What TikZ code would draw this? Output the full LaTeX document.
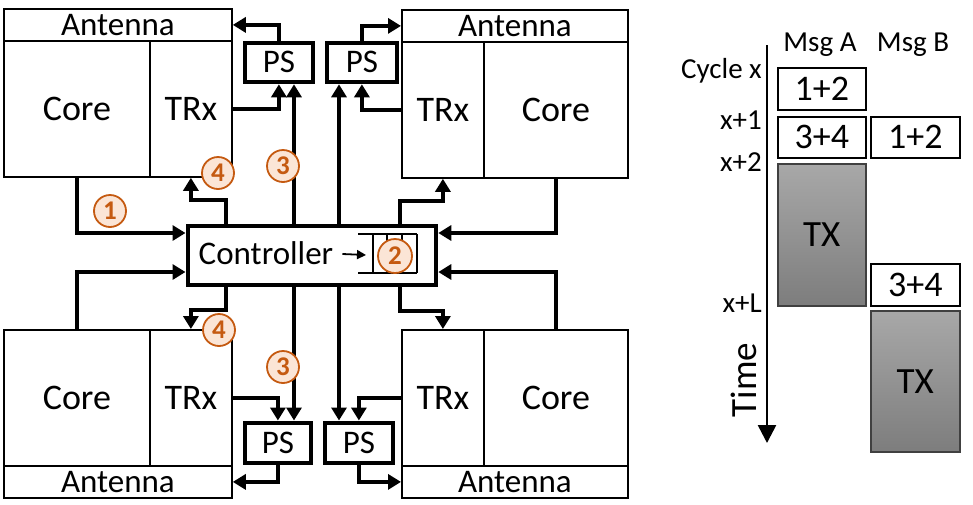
\documentclass[tikz,border=0pt]{standalone}
\usepackage{fontspec}
\setmainfont{Carlito}
\usetikzlibrary{arrows.meta,calc}
\definecolor{numor}{HTML}{C55A11}
\definecolor{numfill}{HTML}{FBE5D6}
\definecolor{txtop}{RGB}{168,168,168}
\definecolor{txbot}{RGB}{125,125,125}
\definecolor{txedge}{RGB}{64,64,64}
\begin{document}
\begin{tikzpicture}[x=1pt,y=-1pt,
  fs/.style={font=\fontsize{#1}{#1}\selectfont,text height=#1*0.85pt,text depth=#1*0.21pt},
  box/.style={draw,line width=1.8pt,inner sep=0pt,anchor=north west},
  thickbox/.style={draw,line width=4.8pt,inner sep=0pt,anchor=north west,fill=white},
  arr/.style={line width=4pt,-{Triangle[length=13pt,width=15pt]}},
  big/.style={fs=36},
  ant/.style={fs=33,text height=25pt,text depth=4pt},
  ps/.style={fs=33},
  num/.style={circle,draw=numor,fill=numfill,line width=1.8pt,minimum size=32pt,
    inner sep=0pt,text=numor,fs=27,font=\fontsize{27}{27}\selectfont\bfseries},
  slot/.style={draw,line width=1.8pt,inner sep=0pt,anchor=north west,fs=36},
  txslot/.style={draw=txedge,line width=1.5pt,inner sep=0pt,anchor=north west,
    top color=txtop,bottom color=txbot,fs=37},
  lab/.style={fs=29}
]
\useasboundingbox[fill=white] (0,0) rectangle (973,504);

% ---- top-left block
\node[box,ant,minimum width=228,minimum height=32] (tlant) at (3,8) {Antenna};
\node[box,big,minimum width=146,minimum height=136] (tlcore) at (3,40) {Core};
\node[box,big,minimum width=82,minimum height=136] (tltrx) at (149,40) {TRx};
% ---- top-right block
\node[box,ant,minimum width=226,minimum height=32] (trant) at (401,9) {Antenna};
\node[box,big,minimum width=82,minimum height=136] (trtrx) at (401,41) {TRx};
\node[box,big,minimum width=144,minimum height=136] (trcore) at (483,41) {Core};
% ---- bottom-left block
\node[box,big,minimum width=146,minimum height=136] (blcore) at (3,329) {Core};
\node[box,big,minimum width=82,minimum height=136] (bltrx) at (149,329) {TRx};
\node[box,ant,minimum width=228,minimum height=32] (blant) at (3,465) {Antenna};
% ---- bottom-right block
\node[box,big,minimum width=82,minimum height=136] (brtrx) at (401,329) {TRx};
\node[box,big,minimum width=144,minimum height=136] (brcore) at (483,329) {Core};
\node[box,ant,minimum width=226,minimum height=32] (brant) at (401,465) {Antenna};

% ---- PS boxes
\node[thickbox,ps,minimum width=68,minimum height=39] (tlps) at (242.5,40.5) {PS};
\node[thickbox,ps,minimum width=70,minimum height=39] (trps) at (324.5,40.5) {PS};
\node[thickbox,ps,minimum width=66,minimum height=40] (blps) at (242.5,420.5) {PS};
\node[thickbox,ps,minimum width=68,minimum height=40] (brps) at (322.5,420.5) {PS};

% ---- controller
\node[thickbox,minimum width=248,minimum height=59] (ctrl) at (185.5,223.5) {};
\node[fs=33,inner xsep=9pt] (ctrltxt) at (266,254) {Controller};
\coordinate (qin) at (366,255);
\draw[line width=1.8pt,-{Triangle[length=9pt,width=9pt]}] (ctrltxt.east) -- (qin);
\draw[line width=1.5pt] (358,234) -- (417,234) (358,273) -- (417,273)
  (373,234) -- (373,273) (387,234) -- (387,273) (402,234) -- (402,273) (417,234) -- (417,273);

% ---- helper columns / rows
\coordinate (c4L) at (226,0);
\coordinate (c3L) at (294,0);
\coordinate (c3R) at (339,0);
\coordinate (c4R) at (400,0);
\coordinate (rT) at (0,233);
\coordinate (rB) at (0,272);

% ---- top-left connectors
\draw[arr] (tlps.north) |- (tlant.east);
\draw[arr] (tltrx.east) -| (tlps.south);
\draw[arr] (c3L |- ctrl.north) -- (c3L |- tlps.south);
\draw[arr] (c4L |- ctrl.north) -- ++(0,-24) -| (tltrx.south);
\draw[arr] (tlcore.south) |- (rT -| ctrl.west);
% ---- top-right connectors
\draw[arr] (trps.north) |- (trant.west);
\draw[arr] (trtrx.west) -| (trps.south);
\draw[arr] (c3R |- ctrl.north) -- (c3R |- trps.south);
\draw[arr] (c4R |- ctrl.north) -- ++(0,-23) -| (trtrx.south);
\draw[arr] (trcore.south) |- (rT -| ctrl.east);
% ---- bottom-left connectors
\draw[arr] (blcore.north) |- (rB -| ctrl.west);
\draw[arr] (c4L |- ctrl.south) -- ++(0,23) -| (bltrx.north);
\draw[arr] (c3L |- ctrl.south) -- (c3L |- blps.north);
\draw[arr] (bltrx.east) -| (blps.north);
\draw[arr] (blps.south) |- (blant.east);
% ---- bottom-right connectors
\draw[arr] (brps.south) |- (brant.west);
\draw[arr] (brtrx.west) -| (brps.north);
\draw[arr] (c3R |- ctrl.south) -- (c3R |- brps.north);
\draw[arr] (c4R |- ctrl.south) -- ++(0,24) -| (brtrx.north);
\draw[arr] (brcore.north) |- (rB -| ctrl.east);

% ---- numbered circles
\node[num] (n1) at (110,211) {1};
\node[num] (n4t) at (218,173) {4};
\node[num] (n3t) at (283,166) {3};
\node[num,minimum size=34pt] (n2) at (395,256) {2};
\node[num] (n4b) at (219,330) {4};
\node[num] (n3b) at (283,367) {3};

% ---- timing chart
\coordinate (axtop) at (767,45);
\coordinate (axbot) at (767,443);
\draw[line width=2.6pt,-{Triangle[length=18pt,width=18pt]}] (axtop) -- (axbot);
\node[lab] (msga) at (820,42) {Msg A};
\node[lab] (msgb) at (913,42) {Msg B};
\node[lab,anchor=east,inner xsep=0pt] (cx) at (762,69) {Cycle x};
\node[lab,anchor=east,inner xsep=0pt] (cx1) at (762,120) {x+1};
\node[lab,anchor=east,inner xsep=0pt] (cx2) at (762,162) {x+2};
\node[lab,anchor=east,inner xsep=0pt] (cxl) at (762,303) {x+L};
\node[fs=37,rotate=90] (time) at (745,380) {Time};

\node[slot,minimum width=88,minimum height=42] (a1) at (777,67) {1+2};
\node[slot,minimum width=88,minimum height=41] (a2) at (777,116) {3+4};
\node[slot,minimum width=89,minimum height=41] (b1) at (870,116) {1+2};
\node[txslot,minimum width=88,minimum height=142] (atx) at (777,163) {TX};
\node[slot,minimum width=89,minimum height=42] (b2) at (870,263) {3+4};
\node[txslot,minimum width=89,minimum height=141] (btx) at (870,310) {TX};
\end{tikzpicture}
\end{document}
